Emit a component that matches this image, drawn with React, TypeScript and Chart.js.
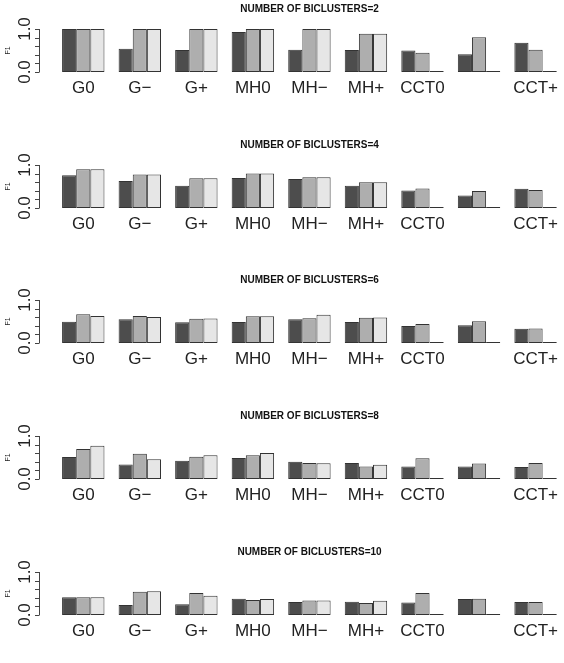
import React, { useEffect, useRef } from "react";
import { Chart, registerables } from "chart.js";

Chart.register(...registerables);

// ---------- data ----------
const categories = ["G0", "G−", "G+", "MH0", "MH−", "MH+", "CCT0", "CCT−", "CCT+"];
// the 8th name is not shown in the reference (overlapping label dropped)
const tickLabels = ["G0", "G−", "G+", "MH0", "MH−", "MH+", "CCT0", "", "CCT+"];
const panelTitles = [
  "NUMBER OF BICLUSTERS=2",
  "NUMBER OF BICLUSTERS=4",
  "NUMBER OF BICLUSTERS=6",
  "NUMBER OF BICLUSTERS=8",
  "NUMBER OF BICLUSTERS=10",
];
const yTicks = [0, 0.2, 0.4, 0.6, 0.8, 1.0];
const yTickLabels = ["0.0", "", "", "", "", "1.0"];
const yTitle = "F1";

const k2Dark = [1.0, 0.54, 0.51, 0.93, 0.52, 0.51, 0.5, 0.41, 0.68];
const k2Mid = [1.0, 1.0, 1.0, 1.0, 1.0, 0.89, 0.45, 0.81, 0.52];
const k2Light = [1.0, 1.0, 1.0, 1.0, 1.0, 0.89, 0, 0, 0];

const k4Dark = [0.76, 0.63, 0.52, 0.7, 0.675, 0.52, 0.405, 0.29, 0.45];
const k4Mid = [0.9, 0.78, 0.69, 0.8, 0.715, 0.6, 0.455, 0.395, 0.42];
const k4Light = [0.9, 0.78, 0.69, 0.8, 0.715, 0.6, 0, 0, 0];

const k6Dark = [0.495, 0.55, 0.48, 0.49, 0.555, 0.49, 0.395, 0.41, 0.33];
const k6Mid = [0.67, 0.63, 0.565, 0.625, 0.575, 0.585, 0.44, 0.505, 0.335];
const k6Light = [0.63, 0.605, 0.57, 0.625, 0.655, 0.595, 0, 0, 0];

const k8Dark = [0.51, 0.335, 0.425, 0.49, 0.4, 0.37, 0.29, 0.29, 0.28];
const k8Mid = [0.7, 0.585, 0.515, 0.55, 0.37, 0.29, 0.48, 0.36, 0.37];
const k8Light = [0.775, 0.46, 0.55, 0.605, 0.365, 0.33, 0, 0, 0];

const k10Dark = [0.41, 0.23, 0.25, 0.38, 0.3, 0.31, 0.29, 0.375, 0.3];
const k10Mid = [0.41, 0.54, 0.51, 0.35, 0.34, 0.28, 0.51, 0.38, 0.3];
const k10Light = [0.41, 0.555, 0.45, 0.375, 0.34, 0.33, 0, 0, 0];

const panelSeries = [
  [k2Dark, k2Mid, k2Light],
  [k4Dark, k4Mid, k4Light],
  [k6Dark, k6Mid, k6Light],
  [k8Dark, k8Mid, k8Light],
  [k10Dark, k10Mid, k10Light],
];

// ---------- layout / style ----------
const W = 564;
const H = 663;
const CANVAS_H = 100;
const CHART_TOP_IN_CANVAS = 28;
const panelChartTops = [29, 164.5, 300, 436, 572];
const barColors = ["#4D4D4D", "#AEAEAE", "#E6E6E6"];
const FONT = "'Liberation Sans', Arial, Helvetica, sans-serif";
const AXIS_X = 39;

const rAxisPlugin = {
  id: "rAxis",
  afterDraw(chart: any) {
    const y = chart.scales.y;
    const ctx = chart.ctx as CanvasRenderingContext2D;
    ctx.save();
    ctx.strokeStyle = "#444";
    ctx.lineWidth = 1;
    ctx.beginPath();
    const y0 = y.getPixelForValue(yTicks[0]);
    const y1 = y.getPixelForValue(yTicks[yTicks.length - 1]);
    ctx.moveTo(AXIS_X + 0.5, y0);
    ctx.lineTo(AXIS_X + 0.5, y1);
    yTicks.forEach((v) => {
      const py = Math.round(y.getPixelForValue(v)) + 0.5;
      ctx.moveTo(AXIS_X + 0.5, py);
      ctx.lineTo(AXIS_X - 4, py);
    });
    ctx.stroke();

    ctx.fillStyle = "#222";
    ctx.font = `17px ${FONT}`;
    ctx.textAlign = "center";
    ctx.textBaseline = "middle";
    yTicks.forEach((v, i) => {
      const lab = yTickLabels[i];
      if (!lab) return;
      const py = y.getPixelForValue(v);
      ctx.save();
      ctx.translate(25, py);
      ctx.rotate(-Math.PI / 2);
      ctx.fillText(lab, 0, 0);
      ctx.restore();
    });

    ctx.font = `7px ${FONT}`;
    ctx.save();
    ctx.translate(8, (y0 + y1) / 2);
    ctx.rotate(-Math.PI / 2);
    ctx.fillText(yTitle, 0, 0);
    ctx.restore();
    ctx.restore();
  },
};

function Panel({ idx }: { idx: number }) {
  const ref = useRef<HTMLCanvasElement | null>(null);
  useEffect(() => {
    if (!ref.current) return;
    const series = panelSeries[idx];
    const chart = new Chart(ref.current, {
      type: "bar",
      data: {
        labels: categories,
        datasets: series.map((vals, j) => ({
          label: String(j),
          data: vals,
          backgroundColor: barColors[j],
          borderColor: "#333",
          borderWidth: 1,
          borderSkipped: false,
          minBarLength: 1,
          categoryPercentage: 0.75,
          barPercentage: 1,
        })),
      },
      options: {
        animation: false,
        responsive: false,
        maintainAspectRatio: false,
        devicePixelRatio: 1,
        layout: { padding: { left: 55, right: 0, top: 0, bottom: 0 } },
        plugins: {
          legend: { display: false },
          tooltip: { enabled: false },
          title: {
            display: true,
            text: panelTitles[idx],
            color: "#111",
            font: { family: FONT, size: 10, weight: "bold" },
            padding: { top: 2, bottom: 14 },
          },
        },
        scales: {
          x: {
            grid: { display: false, drawTicks: false },
            border: { display: false },
            ticks: {
              autoSkip: false,
              maxRotation: 0,
              minRotation: 0,
              color: "#222",
              padding: 6,
              font: { family: FONT, size: 17 },
              callback: (_v: any, i: number) => tickLabels[i],
            },
            afterFit: (s: any) => {
              s.height = CANVAS_H - CHART_TOP_IN_CANVAS - 43;
            },
          },
          y: { display: false, min: 0, max: 1 },
        },
      } as any,
      plugins: [rAxisPlugin],
    });
    return () => chart.destroy();
  }, [idx]);
  return (
    <canvas
      ref={ref}
      width={W}
      height={CANVAS_H}
      style={{
        position: "absolute",
        left: 0,
        top: panelChartTops[idx] - CHART_TOP_IN_CANVAS,
        width: W,
        height: CANVAS_H,
      }}
    />
  );
}

export default function App() {
  return (
    <div
      style={{
        position: "absolute",
        left: 0,
        top: 0,
        width: W,
        height: H,
        background: "#fff",
        overflow: "hidden",
      }}
    >
      {panelTitles.map((_t, i) => (
        <Panel key={i} idx={i} />
      ))}
    </div>
  );
}
